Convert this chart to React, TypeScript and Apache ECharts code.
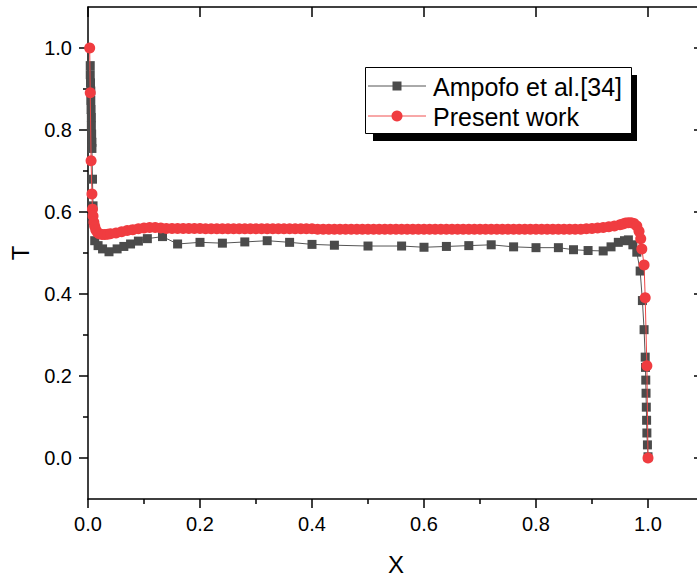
import React, { useEffect, useRef } from "react";
import * as echarts from "echarts";

const FONT = "'Liberation Sans', Arial, sans-serif";

// Ampofo et al.[34] (squares)
const ampofoX = [
  0.004, 0.004, 0.0045, 0.005, 0.005, 0.0055, 0.006, 0.006, 0.0065, 0.007, 0.007,
  0.008, 0.009, 0.012, 0.018, 0.026, 0.0375, 0.052, 0.064, 0.076, 0.09, 0.106, 0.133,
  0.16, 0.2, 0.24, 0.28, 0.32, 0.36, 0.4, 0.44, 0.5, 0.56, 0.6, 0.64, 0.68, 0.72,
  0.76, 0.8, 0.84, 0.867, 0.893, 0.92, 0.934, 0.947, 0.958, 0.965, 0.973, 0.98,
  0.986, 0.99, 0.993, 0.995, 0.9955, 0.996, 0.9965, 0.997, 0.9975, 0.998, 0.999, 1.0,
];
const ampofoT = [
  0.957, 0.935, 0.915, 0.895, 0.872, 0.85, 0.83, 0.81, 0.79, 0.77, 0.755,
  0.68, 0.615, 0.53, 0.518, 0.51, 0.503, 0.51, 0.516, 0.522, 0.529, 0.535, 0.54,
  0.522, 0.526, 0.524, 0.527, 0.53, 0.526, 0.521, 0.519, 0.517, 0.517, 0.514, 0.516, 0.518, 0.52,
  0.515, 0.513, 0.513, 0.508, 0.506, 0.505, 0.515, 0.526, 0.53, 0.532, 0.52, 0.502,
  0.456, 0.384, 0.313, 0.246, 0.221, 0.19, 0.158, 0.124, 0.092, 0.061, 0.032, 0.003,
];

// Present work (circles)
const presentX = [
  0.003, 0.004, 0.0055, 0.007, 0.008, 0.009, 0.0105, 0.012, 0.014, 0.017, 0.02, 0.025,
  0.03, 0.035, 0.04, 0.05, 0.06, 0.07, 0.08, 0.09, 0.1, 0.11, 0.12, 0.13, 0.14,
  0.15, 0.16, 0.17, 0.18, 0.19, 0.2, 0.21, 0.22, 0.23, 0.24, 0.25, 0.26, 0.27, 0.28, 0.29,
  0.3, 0.31, 0.32, 0.33, 0.34, 0.35, 0.36, 0.37, 0.38, 0.39, 0.4, 0.41, 0.42, 0.43, 0.44,
  0.45, 0.46, 0.47, 0.48, 0.49, 0.5, 0.51, 0.52, 0.53, 0.54, 0.55, 0.56, 0.57, 0.58, 0.59,
  0.6, 0.61, 0.62, 0.63, 0.64, 0.65, 0.66, 0.67, 0.68, 0.69, 0.7, 0.71, 0.72, 0.73, 0.74,
  0.75, 0.76, 0.77, 0.78, 0.79, 0.8, 0.81, 0.82, 0.83, 0.84, 0.85, 0.86, 0.87, 0.88, 0.89,
  0.9, 0.91, 0.92, 0.93, 0.94, 0.95, 0.955, 0.96, 0.965, 0.97, 0.975, 0.98, 0.984, 0.987,
  0.989, 0.993, 0.995, 0.998, 1.0,
];
const presentT = [
  1.0, 0.891, 0.725, 0.644, 0.607, 0.59, 0.575, 0.565, 0.556, 0.55, 0.547, 0.545,
  0.545, 0.546, 0.547, 0.549, 0.552, 0.555, 0.557, 0.559, 0.561, 0.562, 0.562, 0.561, 0.56,
  0.56, 0.56, 0.56, 0.56, 0.56, 0.56, 0.559, 0.559, 0.559, 0.559, 0.559, 0.559, 0.559, 0.559, 0.559,
  0.559, 0.559, 0.559, 0.559, 0.559, 0.559, 0.559, 0.559, 0.559, 0.559, 0.559, 0.558, 0.558, 0.558, 0.558,
  0.558, 0.558, 0.558, 0.558, 0.558, 0.558, 0.558, 0.558, 0.558, 0.558, 0.558, 0.558, 0.558, 0.558, 0.558,
  0.558, 0.558, 0.558, 0.558, 0.558, 0.558, 0.558, 0.558, 0.558, 0.558, 0.558, 0.558, 0.558, 0.558, 0.558,
  0.558, 0.558, 0.558, 0.558, 0.558, 0.558, 0.558, 0.558, 0.558, 0.558, 0.558, 0.558, 0.558, 0.558, 0.559,
  0.56, 0.561, 0.562, 0.564, 0.566, 0.569, 0.571, 0.573, 0.574, 0.574, 0.572, 0.566, 0.553, 0.535,
  0.51, 0.471, 0.391, 0.225, 0.0,
];

const xMajor = [0, 0.2, 0.4, 0.6, 0.8, 1.0];
const xMinor = [0.1, 0.3, 0.5, 0.7, 0.9];
const yMajor = [0, 0.2, 0.4, 0.6, 0.8, 1.0];
const yMinor = [0.1, 0.3, 0.5, 0.7, 0.9];

const legendNames = ["Ampofo et al.[34]", "Present work"];

export default function App() {
  const ref = useRef<HTMLDivElement>(null);
  useEffect(() => {
    if (!ref.current) return;
    const chart = echarts.init(ref.current, undefined, { renderer: "svg" });
    const black = { color: "#000", width: 1.5 };
    const fmt = (v: number) => v.toFixed(1);
    const baseX = {
      type: "value",
      min: 0,
      max: 1.1,
      splitLine: { show: false },
    };
    const baseY = {
      type: "value",
      min: -0.1,
      max: 1.1,
      splitLine: { show: false },
    };
    const option: any = {
      animation: false,
      grid: { left: 88, top: 7, right: 16, bottom: 77, containLabel: false, outerBoundsMode: "none" },
      xAxis: [
        {
          ...baseX,
          position: "bottom",
          name: "X",
          nameLocation: "middle",
          nameGap: 53,
          nameTextStyle: { fontSize: 24, color: "#000", fontFamily: FONT },
          axisLine: { show: true, onZero: false, lineStyle: black },
          axisTick: { show: true, inside: false, length: 9, customValues: xMajor, lineStyle: black },
          axisLabel: {
            show: true,
            customValues: xMajor,
            formatter: fmt,
            fontSize: 20,
            color: "#000",
            fontFamily: FONT,
            margin: 15,
          },
        },
        {
          ...baseX,
          position: "bottom",
          axisLine: { show: false, onZero: false },
          axisTick: { show: true, inside: false, length: 5, customValues: xMinor, lineStyle: black },
          axisLabel: { show: false },
        },
        {
          ...baseX,
          position: "top",
          axisLine: { show: true, onZero: false, lineStyle: black },
          axisTick: { show: true, inside: true, length: 10, customValues: xMajor, lineStyle: black },
          axisLabel: { show: false },
        },
      ],
      yAxis: [
        {
          ...baseY,
          position: "left",
          name: "T",
          nameLocation: "middle",
          nameGap: 56,
          nameTextStyle: { fontSize: 24, color: "#000", fontFamily: FONT },
          axisLine: { show: true, onZero: false, lineStyle: black },
          axisTick: { show: true, inside: false, length: 9, customValues: yMajor, lineStyle: black },
          axisLabel: {
            show: true,
            customValues: yMajor,
            formatter: fmt,
            fontSize: 20,
            color: "#000",
            fontFamily: FONT,
            margin: 16,
          },
        },
        {
          ...baseY,
          position: "left",
          axisLine: { show: false, onZero: false },
          axisTick: { show: true, inside: false, length: 5, customValues: yMinor, lineStyle: black },
          axisLabel: { show: false },
        },
        {
          ...baseY,
          position: "right",
          axisLine: { show: true, onZero: false, lineStyle: black },
          axisTick: { show: true, inside: true, length: 10, customValues: yMajor, lineStyle: black },
          axisLabel: { show: false },
        },
      ],
      series: [
        {
          type: "line",
          name: legendNames[0],
          data: ampofoX.map((x, i) => [x, ampofoT[i]]),
          symbol: "rect",
          symbolSize: 9,
          showAllSymbol: true,
          itemStyle: { color: "#4b4b4b" },
          lineStyle: { color: "#555", width: 1 },
          z: 2,
        },
        {
          type: "line",
          name: legendNames[1],
          data: presentX.map((x, i) => [x, presentT[i]]),
          symbol: "circle",
          symbolSize: 11,
          showAllSymbol: true,
          itemStyle: { color: "#f03c40" },
          lineStyle: { color: "#f04848", width: 1 },
          z: 3,
        },
      ],
      graphic: [
        { type: "rect", shape: { x: 373, y: 75, width: 264, height: 66 }, style: { fill: "#000" }, z: 10 },
        {
          type: "rect",
          shape: { x: 365.5, y: 67.5, width: 266, height: 66 },
          style: { fill: "#fff", stroke: "#000", lineWidth: 1 },
          z: 11,
        },
        { type: "line", shape: { x1: 368, y1: 86, x2: 426, y2: 86 }, style: { stroke: "#555", lineWidth: 1 }, z: 12 },
        { type: "rect", shape: { x: 392.5, y: 81.5, width: 9, height: 9 }, style: { fill: "#4b4b4b" }, z: 13 },
        {
          type: "text",
          x: 433,
          y: 87,
          style: { text: legendNames[0], fontSize: 25, fontFamily: FONT, fill: "#000", verticalAlign: "middle" },
          z: 13,
        },
        { type: "line", shape: { x1: 368, y1: 116, x2: 426, y2: 116 }, style: { stroke: "#f05050", lineWidth: 1 }, z: 12 },
        { type: "circle", shape: { cx: 397, cy: 116, r: 5.5 }, style: { fill: "#f03c40" }, z: 13 },
        {
          type: "text",
          x: 433,
          y: 117,
          style: { text: legendNames[1], fontSize: 25, fontFamily: FONT, fill: "#000", verticalAlign: "middle" },
          z: 13,
        },
      ],
    };
    chart.setOption(option);
    return () => chart.dispose();
  }, []);
  return (
    <div
      style={{
        position: "fixed",
        left: 0,
        top: 0,
        width: 697,
        height: 576,
        overflow: "hidden",
        background: "#fff",
      }}
    >
      <div ref={ref} style={{ width: 720, height: 576 }} />
    </div>
  );
}
